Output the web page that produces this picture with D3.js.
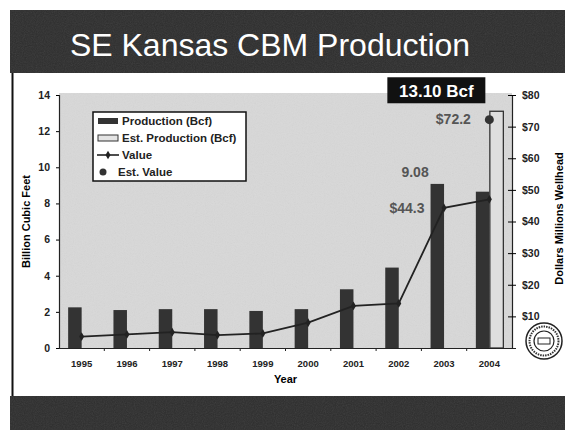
<!DOCTYPE html>
<html>
<head>
<meta charset="utf-8">
<script src="https://cdn.jsdelivr.net/npm/d3@7/dist/d3.min.js"></script>
<style>
  body { margin: 0; background: #fff; }
  svg { display: block; font-family: "Liberation Sans", Arial, sans-serif; }
</style>
</head>
<body>
<svg class="chart"></svg>
<script>
/*Data*/
const years = ["1995", "1996", "1997", "1998", "1999", "2000", "2001", "2002", "2003", "2004"]
const production = [2.25, 2.1, 2.15, 2.15, 2.05, 2.15, 3.25, 4.45, 9.08, 8.65]   // Bcf
const estProduction = [null, null, null, null, null, null, null, null, null, 13.10]
const value = [3.6, 4.3, 5.0, 4.1, 4.6, 8.0, 13.3, 14.1, 44.3, 47.0]             // $ millions
const estValue = [null, null, null, null, null, null, null, null, null, 72.2]
const leftTicks = [0, 2, 4, 6, 8, 10, 12, 14]
const rightTicks = [10, 20, 30, 40, 50, 60, 70, 80]
const legendItems = ["Production (Bcf)", "Est. Production (Bcf)", "Value", "Est. Value"]

const width = 565, height = 430
const plot = { left: 59, right: 512, top: 95, bottom: 348 }

var svg = d3.select(".chart")
    .attr("width", width)
    .attr("height", height)

/*Noise texture for the dark bands and the grey plot*/
var defs = svg.append("defs")
var noise = defs.append("filter").attr("id", "noise")
    .attr("x", 0).attr("y", 0).attr("width", 1).attr("height", 1)
noise.append("feTurbulence").attr("type", "fractalNoise")
    .attr("baseFrequency", 0.9).attr("numOctaves", 2).attr("seed", 3).attr("result", "t")
noise.append("feColorMatrix").attr("type", "saturate").attr("values", 0)

/*Slide frame: header band, body, footer band*/
svg.append("rect").attr("x", 10).attr("y", 10).attr("width", width - 10).attr("height", 63).attr("fill", "#2d2d2d")
svg.append("rect").attr("x", 10).attr("y", 10).attr("width", width - 10).attr("height", 63)
    .attr("filter", "url(#noise)").attr("opacity", 0.12)
svg.append("rect").attr("x", 10).attr("y", 396).attr("width", width - 10).attr("height", 34).attr("fill", "#2d2d2d")
svg.append("rect").attr("x", 10).attr("y", 396).attr("width", width - 10).attr("height", 34)
    .attr("filter", "url(#noise)").attr("opacity", 0.12)
svg.append("line").attr("x1", 12.5).attr("x2", 12.5).attr("y1", 73).attr("y2", 396)
    .attr("stroke", "#111").attr("stroke-width", 2)

svg.append("text")
    .attr("x", 270).attr("y", 56)
    .attr("text-anchor", "middle")
    .attr("fill", "#fff")
    .style("font-size", "32px")
    .text("SE Kansas CBM Production")

/*Scales*/
var x = d3.scaleBand().domain(years).range([plot.left, plot.right])
var yL = d3.scaleLinear().domain([0, 14]).range([plot.bottom, plot.top])
var yR = d3.scaleLinear().domain([0, 80]).range([plot.bottom, plot.top])
var barW = 13.5
var cx = (d) => x(d) + x.bandwidth() / 2

/*Grey plot area*/
svg.append("rect")
    .attr("x", plot.left).attr("y", plot.top - 2)
    .attr("width", plot.right - plot.left).attr("height", plot.bottom - plot.top + 2)
    .attr("fill", "#d8d8d8")
svg.append("rect")
    .attr("x", plot.left).attr("y", plot.top - 2)
    .attr("width", plot.right - plot.left).attr("height", plot.bottom - plot.top + 2)
    .attr("filter", "url(#noise)").attr("opacity", 0.1)

var rows = years.map((y, i) => ({ year: y, prod: production[i], est: estProduction[i], val: value[i], estVal: estValue[i] }))

/*Production bars, left half of each band*/
svg.append("g").selectAll("rect")
    .data(rows)
    .enter()
    .append("rect")
      .attr("x", (d) => cx(d.year) - barW)
      .attr("y", (d) => yL(d.prod))
      .attr("width", barW)
      .attr("height", (d) => yL(0) - yL(d.prod))
      .attr("fill", "#333")

/*Estimated production, outlined bar on the right half*/
svg.append("g").selectAll("rect")
    .data(rows.filter((d) => d.est != null))
    .enter()
    .append("rect")
      .attr("x", (d) => cx(d.year) + 0.5)
      .attr("y", (d) => yL(d.est))
      .attr("width", barW)
      .attr("height", (d) => yL(0) - yL(d.est))
      .attr("fill", "#dedede")
      .attr("stroke", "#333")
      .attr("stroke-width", 1.3)

/*Axes*/
var axisFont = (g, size) => g.selectAll("text")
    .style("font-size", size).style("font-weight", "bold").attr("fill", "#222")

svg.append("g")
    .attr("transform", "translate(" + plot.left + ",0)")
    .call(d3.axisLeft(yL).tickValues(leftTicks).tickSize(3).tickPadding(6))
    .call((g) => g.select(".domain").attr("stroke", "#222").attr("stroke-width", 1.2))
    .call((g) => axisFont(g, "10.5px"))

var right = svg.append("g")
    .attr("transform", "translate(" + plot.right + ",0)")
    .call(d3.axisRight(yR).tickValues(rightTicks).tickSize(4).tickPadding(6).tickFormat((d) => "$" + d))
    .call((g) => g.select(".domain").attr("stroke", "#222").attr("stroke-width", 1.2))
    .call((g) => axisFont(g, "10.5px"))
right.selectAll(".tick line").attr("x1", -4)

svg.append("g")
    .attr("transform", "translate(0," + plot.bottom + ")")
    .call(d3.axisBottom(x).tickSize(0).tickPadding(12))
    .call((g) => g.select(".domain").attr("stroke", "#222").attr("stroke-width", 1.2))
    .call((g) => axisFont(g, "9.5px"))

svg.append("g").selectAll("line")
    .data(years.slice(1))
    .enter()
    .append("line")
      .attr("x1", (d) => x(d)).attr("x2", (d) => x(d))
      .attr("y1", plot.bottom).attr("y2", plot.bottom + 3)
      .attr("stroke", "#222")

/*Axis titles*/
svg.append("text")
    .attr("transform", "translate(30," + ((plot.top + plot.bottom) / 2) + ") rotate(-90)")
    .attr("text-anchor", "middle")
    .style("font-size", "11px").style("font-weight", "bold")
    .text("Billion Cubic Feet")
svg.append("text")
    .attr("transform", "translate(563," + ((plot.top + plot.bottom) / 2 - 3) + ") rotate(-90)")
    .attr("text-anchor", "middle")
    .style("font-size", "11px").style("font-weight", "bold")
    .text("Dollars Millions Wellhead")
svg.append("text")
    .attr("x", (plot.left + plot.right) / 2).attr("y", 383)
    .attr("text-anchor", "middle")
    .style("font-size", "11px").style("font-weight", "bold")
    .text("Year")

/*Value line with diamond markers*/
var line = d3.line().x((d) => cx(d.year)).y((d) => yR(d.val))
svg.append("path")
    .datum(rows)
    .attr("d", line)
    .attr("fill", "none")
    .attr("stroke", "#222")
    .attr("stroke-width", 1.8)
svg.append("g").selectAll("path")
    .data(rows)
    .enter()
    .append("path")
      .attr("transform", (d) => "translate(" + cx(d.year) + "," + yR(d.val) + ")")
      .attr("d", d3.symbol(d3.symbolDiamond, 22))
      .attr("fill", "#222")

/*Estimated value dot*/
svg.append("g").selectAll("circle")
    .data(rows.filter((d) => d.estVal != null))
    .enter()
    .append("circle")
      .attr("cx", (d) => cx(d.year))
      .attr("cy", (d) => yR(d.estVal))
      .attr("r", 4.5)
      .attr("fill", "#333")

/*Callout labels*/
var last = rows[rows.length - 1], prev = rows[rows.length - 2]
var labelStyle = (t) => t.attr("text-anchor", "middle").attr("fill", "#555")
    .style("font-size", "14px").style("font-weight", "bold")

svg.append("text").call(labelStyle)
    .attr("x", cx(prev.year) - 29).attr("y", yL(prev.prod) - 7)
    .text(d3.format(".2f")(prev.prod))
svg.append("text").call(labelStyle)
    .attr("x", cx(prev.year) - 37).attr("y", yR(prev.val) + 5)
    .text("$" + d3.format(".1f")(prev.val))
svg.append("text").call(labelStyle)
    .attr("x", cx(last.year) - 36).attr("y", yR(last.estVal) + 4)
    .text("$" + d3.format(".1f")(last.estVal))

var boxX = cx(last.year) - 102, boxY = yL(last.est) - 34
svg.append("rect")
    .attr("x", boxX).attr("y", boxY).attr("width", 98).attr("height", 26)
    .attr("fill", "#111")
svg.append("text")
    .attr("x", boxX + 49).attr("y", boxY + 20)
    .attr("text-anchor", "middle").attr("fill", "#fff")
    .style("font-size", "17px").style("font-weight", "bold")
    .text(d3.format(".2f")(last.est) + " Bcf")

/*Legend*/
var legend = svg.append("g").attr("transform", "translate(93,112)")
legend.append("rect")
    .attr("width", 153).attr("height", 69)
    .attr("fill", "#fff").attr("stroke", "#111").attr("stroke-width", 1.5)
var item = legend.selectAll(".item")
    .data(legendItems)
    .enter()
    .append("g")
      .attr("transform", (d, i) => "translate(0," + (9 + i * 17) + ")")
item.append("text")
    .attr("x", (d, i) => i === 3 ? 25 : 29).attr("y", 4)
    .style("font-size", "11.5px").style("font-weight", "bold")
    .attr("fill", "#222")
    .text((d) => d)
var sw = item.filter((d, i) => i < 2)
sw.append("rect")
    .attr("x", 5).attr("y", -3).attr("width", 20).attr("height", 6)
    .attr("fill", (d, i) => i === 0 ? "#333" : "#e4e4e4")
    .attr("stroke", "#333").attr("stroke-width", (d, i) => i === 0 ? 0 : 1)
item.filter((d, i) => i === 2).append("line")
    .attr("x1", 4).attr("x2", 26).attr("stroke", "#222").attr("stroke-width", 1.6)
item.filter((d, i) => i === 2).append("path")
    .attr("transform", "translate(15,0)")
    .attr("d", d3.symbol(d3.symbolDiamond, 22)).attr("fill", "#222")
item.filter((d, i) => i === 3).append("circle")
    .attr("cx", 10).attr("cy", 0).attr("r", 3.5).attr("fill", "#333")

/*Seal in the bottom right corner*/
var seal = svg.append("g").attr("transform", "translate(544,341)")
seal.append("circle").attr("r", 18).attr("fill", "#fff").attr("stroke", "#222").attr("stroke-width", 1.5)
seal.append("circle").attr("r", 14.5).attr("fill", "none").attr("stroke", "#333").attr("stroke-width", 2).attr("stroke-dasharray", "1.5,1")
seal.append("circle").attr("r", 10).attr("fill", "none").attr("stroke", "#222").attr("stroke-width", 1.2)
seal.append("rect").attr("x", -6).attr("y", -3).attr("width", 12).attr("height", 6)
    .attr("fill", "none").attr("stroke", "#222").attr("stroke-width", 1)
</script>
</body>
</html>
